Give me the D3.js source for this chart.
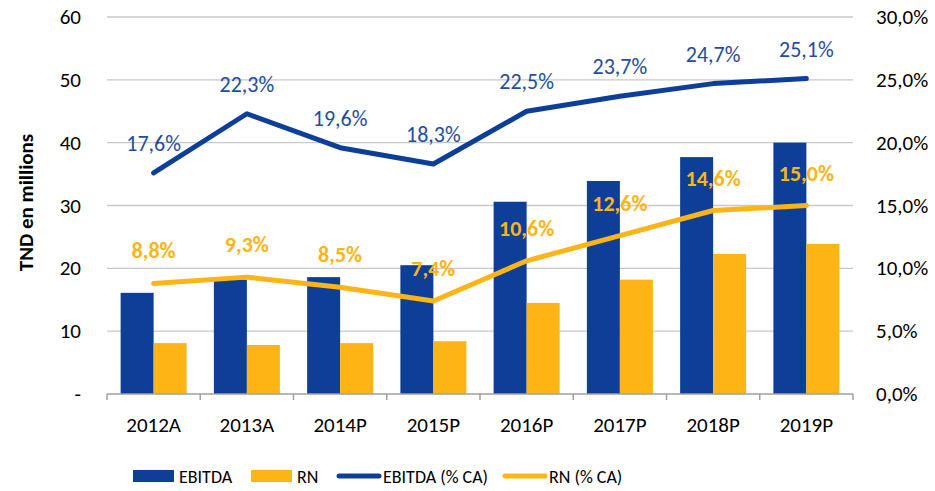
<!DOCTYPE html>
<html>
<head>
<meta charset="utf-8">
<script src="https://cdn.jsdelivr.net/npm/d3@7"></script>
<style>
  body { margin: 0; background: #fff; }
  text { font-family: Carlito, "Open Sans", "Liberation Sans", sans-serif; }
</style>
</head>
<body>
<svg id="chart" width="935" height="491"></svg>
<script>
// DATA
const years = ["2012A", "2013A", "2014P", "2015P", "2016P", "2017P", "2018P", "2019P"];
const ebitda = [16.1, 18.2, 18.6, 20.5, 30.6, 33.9, 37.7, 40.0];
const rn = [8.1, 7.8, 8.1, 8.4, 14.5, 18.2, 22.3, 23.9];
const ebitdaPct = [17.6, 22.3, 19.6, 18.3, 22.5, 23.7, 24.7, 25.1];
const rnPct = [8.8, 9.3, 8.5, 7.4, 10.6, 12.6, 14.6, 15.0];
const leftTicks = [0, 10, 20, 30, 40, 50, 60];
const rightTicks = [0, 5, 10, 15, 20, 25, 30];

const blue = "#0D3F99", orange = "#FDB515", labelBlue = "#1F4E9E";

// SETUP
const margin = { top: 17, right: 82, bottom: 97, left: 107 },
      width = 935 - margin.left - margin.right,
      height = 491 - margin.top - margin.bottom;

const svg = d3.select("#chart")
  .append("g")
  .attr("transform", `translate(${margin.left},${margin.top})`);

// SCALES
const x = d3.scaleBand().domain(years).range([0, width]).paddingInner(0).paddingOuter(0);
const yL = d3.scaleLinear().domain([0, 60]).range([height, 0]);
const yR = d3.scaleLinear().domain([0, 30]).range([height, 0]);
const fmtPct = v => d3.format(".1f")(v).replace(".", ",") + "%";

// GRIDLINES
svg.append("g").selectAll("line")
  .data(leftTicks.slice(1))
  .join("line")
  .attr("x1", 0).attr("x2", width)
  .attr("y1", d => yL(d)).attr("y2", d => yL(d))
  .attr("stroke", "#c8c8c8").attr("stroke-width", 1.3);

// BARS
const barW = 33;
const groups = svg.append("g").selectAll("g")
  .data(years)
  .join("g")
  .attr("transform", d => `translate(${x(d) + x.bandwidth() / 2},0)`);

groups.append("rect")
  .attr("x", -barW)
  .attr("width", barW)
  .attr("y", (d, i) => yL(ebitda[i]))
  .attr("height", (d, i) => height - yL(ebitda[i]))
  .attr("fill", blue);

groups.append("rect")
  .attr("x", 0)
  .attr("width", barW)
  .attr("y", (d, i) => yL(rn[i]))
  .attr("height", (d, i) => height - yL(rn[i]))
  .attr("fill", orange);

// X AXIS
svg.append("line")
  .attr("x1", 0).attr("x2", width)
  .attr("y1", height).attr("y2", height)
  .attr("stroke", "#a0a0a0").attr("stroke-width", 1.5);

svg.append("g").selectAll("line")
  .data(d3.range(years.length + 1))
  .join("line")
  .attr("x1", i => i * x.step()).attr("x2", i => i * x.step())
  .attr("y1", height).attr("y2", height + 6)
  .attr("stroke", "#a0a0a0").attr("stroke-width", 1.5);

svg.append("g").selectAll("text")
  .data(years)
  .join("text")
  .attr("x", d => x(d) + x.bandwidth() / 2)
  .attr("y", height + 38)
  .attr("text-anchor", "middle")
  .attr("font-size", 21)
  .attr("fill", "#000")
  .text(d => d);

// LEFT / RIGHT AXIS LABELS
svg.append("g").selectAll("text")
  .data(leftTicks)
  .join("text")
  .attr("x", -26)
  .attr("y", d => yL(d) + 7)
  .attr("text-anchor", "end")
  .attr("font-size", 21)
  .text(d => d === 0 ? "-" : d);

svg.append("g").selectAll("text")
  .data(rightTicks)
  .join("text")
  .attr("x", width + 23)
  .attr("y", d => yR(d) + 7)
  .attr("text-anchor", "start")
  .attr("font-size", 21)
  .text(d => d3.format(".1f")(d).replace(".", ",") + "%");

// Y AXIS TITLE
svg.append("text")
  .attr("transform", "rotate(-90)")
  .attr("x", -height / 2 + 3)
  .attr("y", -74)
  .attr("text-anchor", "middle")
  .attr("font-size", 21)
  .attr("font-weight", "bold")
  .text("TND en millions");

// LINES
const cx = d => x(d) + x.bandwidth() / 2;
const pctLine = d3.line().x((d, i) => cx(years[i])).y(d => yR(d));

svg.append("path")
  .datum(ebitdaPct)
  .attr("fill", "none").attr("stroke", blue)
  .attr("stroke-width", 5).attr("stroke-linecap", "round").attr("stroke-linejoin", "round")
  .attr("d", pctLine);

svg.append("path")
  .datum(rnPct)
  .attr("fill", "none").attr("stroke", orange)
  .attr("stroke-width", 5).attr("stroke-linecap", "round").attr("stroke-linejoin", "round")
  .attr("d", pctLine);

// DATA LABELS
svg.append("g").selectAll("text")
  .data(ebitdaPct)
  .join("text")
  .attr("x", (d, i) => cx(years[i]))
  .attr("y", d => yR(d) - 22)
  .attr("text-anchor", "middle")
  .attr("font-size", 22)
  .attr("fill", labelBlue)
  .text(fmtPct);

svg.append("g").selectAll("text")
  .data(rnPct)
  .join("text")
  .attr("x", (d, i) => cx(years[i]))
  .attr("y", d => yR(d) - 25)
  .attr("text-anchor", "middle")
  .attr("font-size", 22)
  .attr("font-weight", "bold")
  .attr("fill", orange)
  .text(fmtPct);

// LEGEND
const legend = d3.select("#chart").append("g").attr("transform", "translate(0,476)");
const items = [
  { name: "EBITDA", color: blue, type: "rect", x: 133 },
  { name: "RN", color: orange, type: "rect", x: 251 },
  { name: "EBITDA (% CA)", color: blue, type: "line", x: 337 },
  { name: "RN (% CA)", color: orange, type: "line", x: 503 }
];
items.forEach(it => {
  if (it.type === "rect") {
    legend.append("rect").attr("x", it.x).attr("y", -6).attr("width", 41).attr("height", 12).attr("fill", it.color);
  } else {
    legend.append("line").attr("x1", it.x + 2).attr("x2", it.x + 42).attr("y1", 0).attr("y2", 0)
      .attr("stroke", it.color).attr("stroke-width", 5).attr("stroke-linecap", "round");
  }
  legend.append("text")
    .attr("x", it.x + 46)
    .attr("y", 7)
    .attr("font-size", 18)
    .text(it.name);
});
</script>
</body>
</html>
